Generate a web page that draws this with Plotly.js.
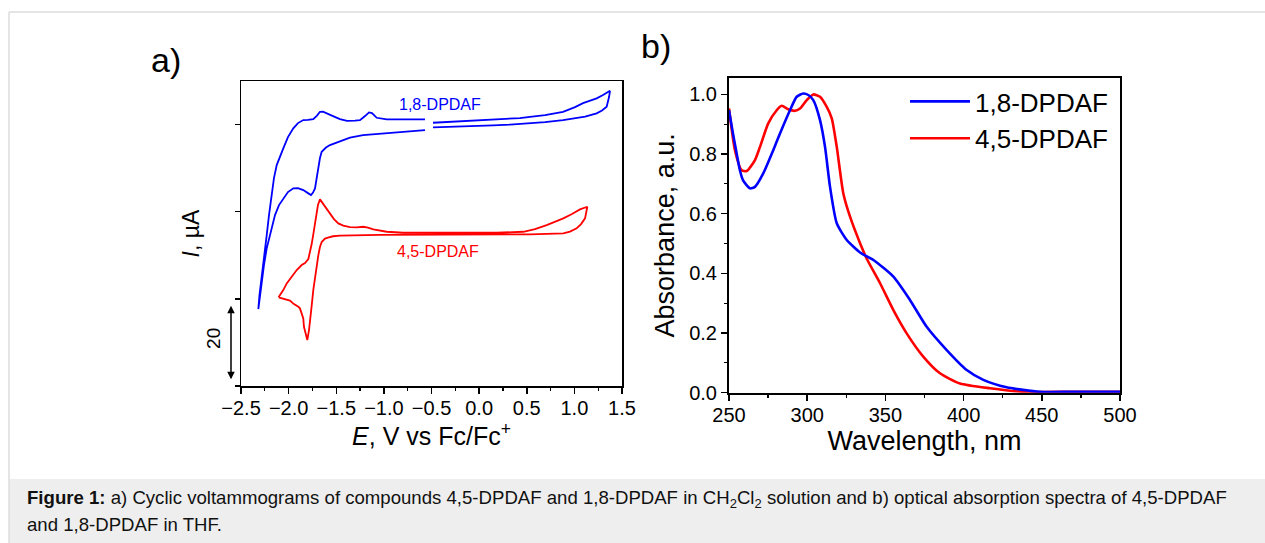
<!DOCTYPE html>
<html>
<head>
<meta charset="utf-8">
<script src="https://cdn.plot.ly/plotly-3.0.1.min.js"></script>
<style>
  html, body { margin: 0; padding: 0; background: #ffffff; }
  #chart { width: 1265px; height: 543px; }
</style>
</head>
<body>
<div id="chart"></div>
<script>
// ---------- Panel a) cyclic voltammograms (E in V vs Fc/Fc+, I in µA) ----------
const cvBlueE = [-0.484,-0.306,0.009,0.219,0.429,0.534,0.692,0.881,1.007,1.091,1.164,1.234,1.301,1.343,1.374,
  1.364,1.339,1.290,1.234,1.112,0.881,0.692,0.534,0.324,0.146,-0.096,-0.306,-0.484,
  null,
  -0.568,-0.799,-1.041,-1.219,-1.356,-1.478,-1.566,-1.608,-1.653,-1.671,-1.688,-1.707,-1.723,-1.744,-1.765,-1.793,-1.846,-1.902,-1.951,-2.007,-2.056,-2.101,-2.143,-2.185,-2.230,-2.259,-2.283,-2.301,-2.318,
  -2.306,-2.283,-2.259,-2.230,-2.206,-2.178,-2.154,-2.125,-2.091,-2.056,-2.007,-1.951,-1.902,-1.846,-1.797,-1.741,-1.702,-1.671,-1.639,-1.597,-1.534,-1.461,-1.387,-1.303,-1.251,-1.198,-1.156,-1.125,-1.075,-0.970,-0.831,-0.568];
const cvBlueI = [50.43,50.69,51.20,51.35,51.78,52.15,52.64,53.58,54.93,56.07,56.65,57.42,58.37,58.94,59.60,
  57.79,55.01,53.93,53.12,52.21,51.20,50.63,50.26,49.91,49.68,49.48,49.26,49.11,
  null,
  48.34,47.85,47.48,46.91,46.19,44.99,44.04,43.32,42.12,40.32,37.36,34.01,31.63,30.43,29.71,30.20,31.15,31.72,31.63,30.57,28.77,26.85,23.98,19.68,14.44,9.66,3.93,0.49,-2.95,
  1.06,5.85,11.95,18.25,23.98,29.71,34.58,38.31,40.89,43.09,46.33,48.83,50.34,51.20,51.26,51.49,52.49,53.58,53.64,53.21,52.35,51.49,51.00,51.06,51.20,52.35,53.41,53.21,51.86,51.40,51.40,51.40];

const cvRedE = [-2.106,-2.056,-2.020,-1.986,-1.951,-1.915,-1.863,-1.828,-1.793,-1.776,-1.758,-1.739,-1.723,-1.705,-1.692,-1.671,
  -1.650,-1.618,-1.597,-1.566,-1.524,-1.478,-1.426,-1.356,-1.285,-1.216,-1.167,-1.111,-0.970,-0.796,-0.306,0.184,0.464,0.587,0.709,0.797,0.884,0.975,1.059,1.136,
  1.127,1.112,1.070,1.024,0.954,0.884,0.534,0.009,-0.516,-1.041,-1.461,-1.534,-1.587,-1.618,-1.653,-1.671,-1.688,-1.707,-1.723,-1.741,-1.755,-1.768,-1.786,-1.804,
  -1.823,-1.839,-1.846,-1.863,-1.881,-1.898,-1.944,-1.986,-2.020,-2.070,-2.106];
const cvRedI = [0.40,2.49,4.41,5.64,6.79,8.22,9.66,10.23,11.38,13.38,15.67,18.83,22.06,24.47,26.85,28.48,
  27.71,26.56,25.70,24.56,22.84,21.60,20.97,20.54,20.46,20.63,20.40,19.89,19.20,18.91,18.83,18.91,19.20,19.97,21.12,21.98,23.04,24.27,25.62,26.36,
  24.84,23.04,21.40,20.17,19.26,18.74,18.45,18.40,18.45,18.31,18.11,17.91,17.54,17.25,16.25,14.81,12.52,9.37,6.22,2.49,-1.23,-5.16,-8.97,-11.83,
  -9.54,-8.02,-5.62,-3.81,-2.75,-2.29,-1.52,-0.52,-0.23,0.06,0.40];

const cvXTicks = [-2.5,-2.0,-1.5,-1.0,-0.5,0.0,0.5,1.0,1.5];
const cvYTicks = [-25,0,25,50];

// ---------- Panel b) absorption spectra ----------
const wlBlue = [250,252.5,254.9,257,259,263.4,266.6,271.9,278.3,282.6,289,293.3,297.5,300.7,303.9,308.2,311.4,314.6,318.9,325.3,333.8,342.3,355.1,365.7,376.4,389.2,402,412.6,427.5,448.8,470,500];
const absBlue = [0.947,0.870,0.802,0.745,0.712,0.685,0.690,0.735,0.813,0.869,0.947,0.992,1.003,0.998,0.981,0.914,0.824,0.690,0.568,0.512,0.470,0.445,0.389,0.311,0.221,0.143,0.076,0.043,0.018,0.003,0.003,0.003];
const wlRed = [250,253.8,258.1,261.3,266.6,269.8,275.1,280.5,283.7,287.9,292.2,295.4,299.7,303.9,308.2,312.5,315.7,318.9,323.1,327.4,333.8,338,346.6,355.1,363.6,374.2,384.9,397.7,416.9,438.2,470,500];
const absRed = [0.953,0.813,0.746,0.743,0.780,0.824,0.903,0.947,0.962,0.950,0.945,0.953,0.981,1.0,0.992,0.958,0.920,0.824,0.668,0.590,0.501,0.450,0.367,0.277,0.199,0.121,0.065,0.031,0.015,0.003,0.003,0.003];

const seriesNames = ['1,8-DPDAF','4,5-DPDAF'];
const seriesColors = ['#0000ff','#ff0000'];

const FONT = 'Liberation Sans, Arial, Helvetica, sans-serif';

const traces = [
  {x: cvBlueE, y: cvBlueI, xaxis:'x', yaxis:'y', mode:'lines', connectgaps:false, showlegend:false,
   line:{color:seriesColors[0], width:1.8}, name:seriesNames[0]},
  {x: cvRedE, y: cvRedI, xaxis:'x', yaxis:'y', mode:'lines', showlegend:false,
   line:{color:seriesColors[1], width:1.8}, name:seriesNames[1]},
  {x: wlRed, y: absRed, xaxis:'x2', yaxis:'y2', mode:'lines', name:seriesNames[1],
   line:{color:seriesColors[1], width:2.6, shape:'spline', smoothing:0.6}},
  {x: wlBlue, y: absBlue, xaxis:'x2', yaxis:'y2', mode:'lines', name:seriesNames[0],
   line:{color:seriesColors[0], width:2.6, shape:'spline', smoothing:0.6}}
];

const W = 1265, H = 543;
const px = v => v / W;
const py = v => 1 - v / H;

const axisCommon = {
  showline:true, linecolor:'#000', mirror:true, showgrid:false, zeroline:false,
  ticks:'outside', tickcolor:'#000', tickwidth:1.5, ticklen:6,
  tickfont:{family:FONT, size:20, color:'#000'}
};

const layout = {
  width: W, height: H,
  margin:{l:0, r:0, t:0, b:0},
  paper_bgcolor:'#ffffff', plot_bgcolor:'#ffffff',
  font:{family:FONT, color:'#000'},
  showlegend:true,
  legend:{x:px(905), y:py(78), xanchor:'left', yanchor:'top', traceorder:'reversed',
          bgcolor:'rgba(0,0,0,0)', font:{family:FONT, size:26, color:'#000'}, itemwidth:60},
  xaxis: Object.assign({}, axisCommon, {
    domain:[px(241), px(622)], anchor:'y', range:[-2.5, 1.5],
    tickvals:cvXTicks, tickformat:'.1f', linewidth:1.5, ticklabelstandoff:-3,
    minor:{dtick:0.25, tick0:-2.5, ticks:'outside', ticklen:3, tickcolor:'#000', tickwidth:1.2},
    title:{text:'<i>E</i>, V vs Fc/Fc<sup>+</sup>', font:{family:FONT, size:25, color:'#000'}, standoff:6}
  }),
  yaxis: Object.assign({}, axisCommon, {
    domain:[py(386), py(81)], anchor:'x', range:[-25, 62.4],
    tickvals:cvYTicks, showticklabels:false, ticklen:5, linewidth:1.5,
    title:{text:'<i>I</i>, µA', font:{family:FONT, size:23, color:'#000'}, standoff:28}
  }),
  xaxis2: Object.assign({}, axisCommon, {
    domain:[px(729), px(1120)], anchor:'y2', range:[250, 500],
    dtick:50, tick0:250, linewidth:2, ticklabelstandoff:-3,
    minor:{dtick:25, ticks:'outside', ticklen:3, tickcolor:'#000', tickwidth:1.2},
    title:{text:'Wavelength, nm', font:{family:FONT, size:27, color:'#000'}, standoff:6}
  }),
  yaxis2: Object.assign({}, axisCommon, {
    domain:[py(392.7), py(78)], anchor:'x2', range:[0, 1.055],
    dtick:0.2, tick0:0, tickformat:'.1f', linewidth:2,
    minor:{dtick:0.1, ticks:'outside', ticklen:3, tickcolor:'#000', tickwidth:1.2},
    title:{text:'Absorbance, a.u.', font:{family:FONT, size:27, color:'#000'}, standoff:7}
  }),
  shapes:[
    {type:'rect', xref:'paper', yref:'paper', x0:px(9), x1:1, y0:0, y1:py(479),
     fillcolor:'#eeeeee', line:{width:0}, layer:'below'},
    {type:'line', xref:'paper', yref:'paper', x0:px(9), x1:px(9), y0:0, y1:py(12),
     line:{color:'#dddddd', width:1.5}},
    {type:'line', xref:'paper', yref:'paper', x0:px(9), x1:1, y0:py(12), y1:py(12),
     line:{color:'#dddddd', width:1.5}}
  ],
  annotations:[
    {text:'a)', xref:'paper', yref:'paper', x:px(166), y:py(60), showarrow:false,
     font:{family:FONT, size:34, color:'#000'}, xanchor:'center', yanchor:'middle'},
    {text:'b)', xref:'paper', yref:'paper', x:px(656), y:py(46), showarrow:false,
     font:{family:FONT, size:34, color:'#000'}, xanchor:'center', yanchor:'middle'},
    {text:seriesNames[0], xref:'x', yref:'y', x:-0.41, y:55.6, showarrow:false,
     font:{family:FONT, size:16, color:seriesColors[0]}, xanchor:'center', yanchor:'middle'},
    {text:seriesNames[1], xref:'x', yref:'y', x:-0.43, y:13.5, showarrow:false,
     font:{family:FONT, size:16, color:seriesColors[1]}, xanchor:'center', yanchor:'middle'},
    // 20 µA scale bar
    {text:'', xref:'paper', yref:'y', x:px(231), y:-23.1, ax:0, ay:-75, axref:'pixel', ayref:'pixel',
     showarrow:true, arrowhead:2, arrowside:'end+start', arrowsize:1, arrowwidth:1.5, arrowcolor:'#000'},
    {text:'20', xref:'paper', yref:'y', x:px(214), y:-11.5, showarrow:false, textangle:-90,
     font:{family:FONT, size:19, color:'#000'}, xanchor:'center', yanchor:'middle'},
    // caption
    {text:'<b>Figure 1:</b> a) Cyclic voltammograms of compounds 4,5-DPDAF and 1,8-DPDAF in CH<sub>2</sub>Cl<sub>2</sub> solution and b) optical absorption spectra of 4,5-DPDAF',
     xref:'paper', yref:'paper', x:px(25), y:py(499), showarrow:false, xanchor:'left', yanchor:'middle',
     font:{family:FONT, size:18.6, color:'#111'}},
    {text:'and 1,8-DPDAF in THF.',
     xref:'paper', yref:'paper', x:px(25), y:py(524), showarrow:false, xanchor:'left', yanchor:'middle',
     font:{family:FONT, size:18.6, color:'#111'}}
  ]
};

Plotly.newPlot('chart', traces, layout, {displayModeBar:false, staticPlot:true});
</script>
</body>
</html>
